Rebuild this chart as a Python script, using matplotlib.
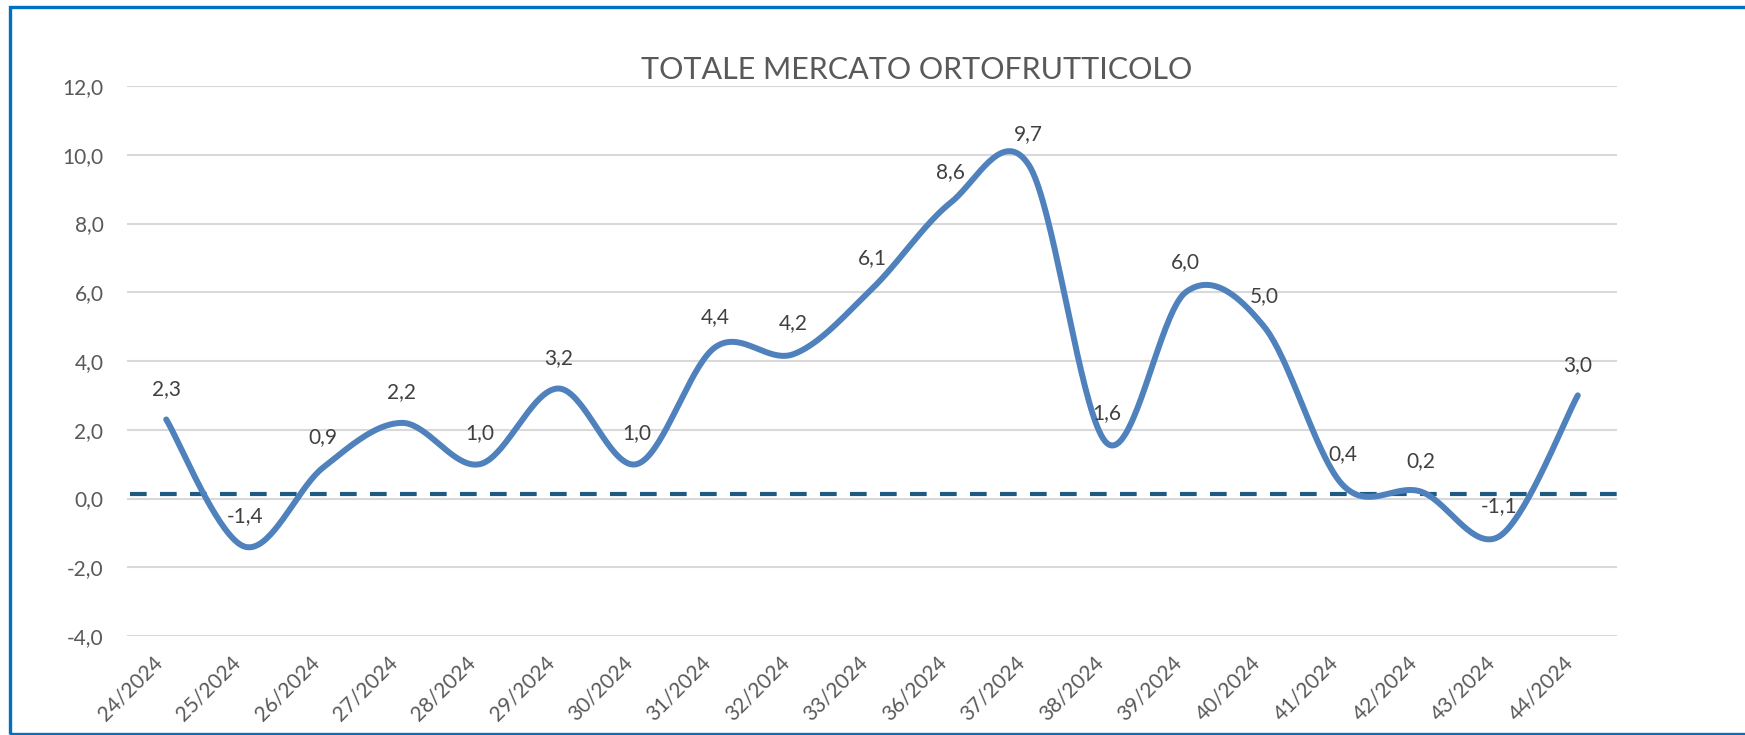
import numpy as np
import matplotlib
matplotlib.use("Agg")
import matplotlib.pyplot as plt
from matplotlib.patches import Rectangle

plt.rcParams['font.family'] = ['Lato', 'DejaVu Sans']

categories = ["24/2024", "25/2024", "26/2024", "27/2024", "28/2024", "29/2024",
              "30/2024", "31/2024", "32/2024", "33/2024", "36/2024", "37/2024",
              "38/2024", "39/2024", "40/2024", "41/2024", "42/2024", "43/2024",
              "44/2024"]
values = [2.3, -1.4, 0.9, 2.2, 1.0, 3.2, 1.0, 4.4, 4.2, 6.1, 8.6, 9.7,
          1.6, 6.0, 5.0, 0.4, 0.2, -1.1, 3.0]
threshold = 0.13
y_ticks = [-4, -2, 0, 2, 4, 6, 8, 10, 12]
title = "TOTALE MERCATO ORTOFRUTTICOLO"


def smooth(xs, ys, n=40):
    pts = np.column_stack([xs, ys]).astype(float)
    out = []
    m = len(pts)
    for i in range(m - 1):
        p0 = pts[i - 1] if i > 0 else pts[i]
        p1 = pts[i]
        p2 = pts[i + 1]
        p3 = pts[i + 2] if i + 2 < m else pts[i + 1]
        c1 = p1 + (p2 - p0) / 6.0
        c2 = p2 - (p3 - p1) / 6.0
        t = np.linspace(0, 1, n)[:, None]
        seg = ((1 - t) ** 3) * p1 + 3 * ((1 - t) ** 2) * t * c1 + 3 * (1 - t) * t ** 2 * c2 + t ** 3 * p2
        if i > 0:
            seg = seg[1:]
        out.append(seg)
    out = np.vstack(out)
    return out[:, 0], out[:, 1]


W, H = 1745, 735
fig = plt.figure(figsize=(W / 100, H / 100), dpi=100)
ax = fig.add_axes([127 / W, (H - 636) / H, (1617 - 127) / W, (636 - 86) / H])

x = np.arange(len(categories))
sx, sy = smooth(x, values)

ax.set_xlim(-0.5, len(categories) - 0.5)
ax.set_ylim(-4, 12)
ax.set_yticks(y_ticks)
ax.set_yticklabels([f"{v:.1f}".replace(".", ",") for v in y_ticks])
ax.yaxis.grid(True, color='#d9d9d9', linewidth=1.5)
ax.set_axisbelow(True)
for s in ax.spines.values():
    s.set_visible(False)
ax.tick_params(axis='y', length=0, pad=17, labelsize=15, labelcolor='#595959')
ax.tick_params(axis='x', length=0, pad=12, labelsize=15, labelcolor='#595959')
ax.set_xticks(x)
ax.set_xticklabels(categories, rotation=45, ha='right', va='top')

ax.plot([-0.46, 18.67], [threshold, threshold], color='#1f5a82', linewidth=3,
        dashes=(4, 3.2), clip_on=False, zorder=2)
ax.plot(sx, sy, color='#4f81bd', linewidth=4.3, solid_capstyle='round', zorder=3)

for xi, v in zip(x, values):
    ax.annotate(f"{v:.1f}".replace(".", ","), (xi, v), xytext=(0, 22),
                textcoords='offset points', ha='center', va='center',
                fontsize=15, color='#404040', zorder=4)

fig.text(917 / W, 1 - 70 / H, title, ha='center', va='center',
         fontsize=22, color='#595959')

fig.patches.append(Rectangle((9.5 / W, 1.5 / H), (1760 - 9.5) / W, (728.5 - 1.5) / H,
                             transform=fig.transFigure, fill=False,
                             edgecolor='#0070c0', linewidth=2.4, zorder=10))

fig.savefig("out.png", dpi=100, facecolor='white')
